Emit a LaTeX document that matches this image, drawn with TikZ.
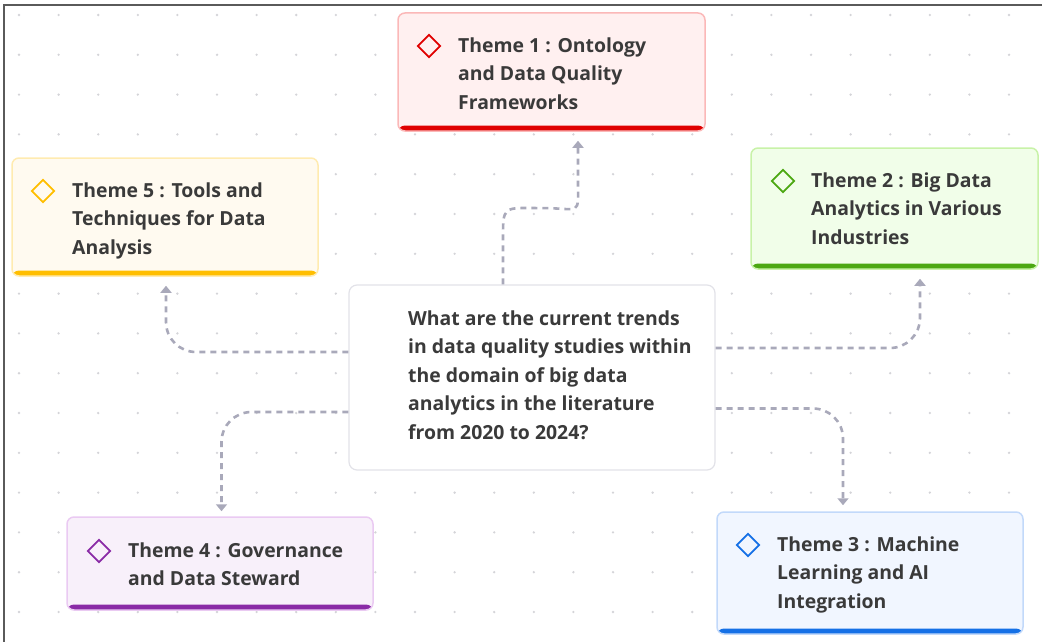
\documentclass[tikz,border=0pt]{standalone}
\usepackage{fontspec}
\setmainfont{Open Sans}
\usepackage{xcolor}
\usetikzlibrary{shapes.geometric,arrows.meta,calc}
\definecolor{inkgray}{HTML}{3A3A3A}
\definecolor{dotgray}{HTML}{D4D4D8}
\definecolor{linkgray}{HTML}{A9A9BA}
\definecolor{framegray}{HTML}{5A5A5A}
\definecolor{qborder}{HTML}{E2E2E8}
% theme colours: fill, border, bar
\definecolor{redfill}{HTML}{FFF0F0}\definecolor{redline}{HTML}{FBB8B8}\definecolor{redbar}{HTML}{E00000}
\definecolor{ambfill}{HTML}{FFFAF0}\definecolor{ambline}{HTML}{FFEBB0}\definecolor{ambbar}{HTML}{FFBE00}
\definecolor{grnfill}{HTML}{F1FEE9}\definecolor{grnline}{HTML}{C8F2A8}\definecolor{grnbar}{HTML}{4CA812}
\definecolor{vioFill}{HTML}{F8F0FA}\definecolor{violine}{HTML}{EACAF2}\definecolor{viobar}{HTML}{8A2BA6}
\definecolor{blufill}{HTML}{F1F6FF}\definecolor{bluline}{HTML}{C2D9FA}\definecolor{blubar}{HTML}{1570E6}

\begin{document}
\begin{tikzpicture}[x=1pt, y=-1pt,
    themebox/.style n args={3}{rectangle, rounded corners=7pt, draw=#2, line width=1.5pt, fill=#1,
        path picture={\fill[#3] ($(path picture bounding box.south west)+(0,-5.5)$) rectangle (path picture bounding box.south east);}},
    qbox/.style={rectangle, rounded corners=8pt, draw=qborder, line width=1.2pt, fill=white},
    tag/.style={diamond, draw=#1, line width=1.7pt, minimum size=23pt, inner sep=0},
    label/.style={font=\bfseries\fontsize{19.4}{28.5}\selectfont, text=inkgray, align=left, anchor=north west, inner sep=0},
    link/.style={draw=linkgray, line width=2.6pt, dash pattern=on 6pt off 5pt, rounded corners=30pt,
        -{Triangle[length=7pt, width=11pt]}}
]
\useasboundingbox (0,0) rectangle (1042,642);
% dotted background
\foreach \i in {0,...,26}
    \foreach \j in {0,...,16}
        \fill[dotgray] (19+39.6*\i, 15+39.8*\j) circle (1.3);
\draw[framegray, line width=2.2pt] (4,642) -- (4,5) -- (1042,5);

% CENTRAL QUESTION
\node[qbox, minimum width=366pt, minimum height=185pt] (boxq) at (532,377.5) {};
\node[label] (txtq) at (408,310.5) {What are the current trends\\in data quality studies within\\the domain of big data\\analytics in the literature\\from 2020 to 2024?};

% THEME 1
\node[themebox={redfill}{redline}{redbar}, minimum width=307pt, minimum height=118pt] (box1) at (551.5,72) {};
\node[tag=redbar] (tag1) at (429,46) {};
\node[label] (txt1) at (458,37.5) {Theme 1 : Ontology\\and Data Quality\\Frameworks};

% THEME 2
\node[themebox={grnfill}{grnline}{grnbar}, minimum width=287pt, minimum height=121pt] (box2) at (894.5,208.5) {};
\node[tag=grnbar] (tag2) at (783,181) {};
\node[label] (txt2) at (811,172.5) {Theme 2 : Big Data\\Analytics in Various\\Industries};

% THEME 3
\node[themebox={blufill}{bluline}{blubar}, minimum width=306pt, minimum height=122pt] (box3) at (870,573) {};
\node[tag=blubar] (tag3) at (748,545) {};
\node[label] (txt3) at (777,536.5) {Theme 3 : Machine\\Learning and AI\\Integration};

% THEME 4
\node[themebox={vioFill}{violine}{viobar}, minimum width=306pt, minimum height=93pt] (box4) at (220,563.5) {};
\node[tag=viobar] (tag4) at (99,551) {};
\node[label] (txt4) at (128,542.5) {Theme 4 : Governance\\and Data Steward};

% THEME 5
\node[themebox={ambfill}{ambline}{ambbar}, minimum width=306pt, minimum height=118pt] (box5) at (165,217) {};
\node[tag=ambbar] (tag5) at (43,191) {};
\node[label] (txt5) at (72,182.5) {Theme 5 : Tools and\\Techniques for Data\\Analysis};

% connectors
\draw[link, sharp corners, shorten >=9pt] ($(boxq.north)+(-29,0)$) -- ++(0,-42)
    .. controls +(0,-38) and +(-40,0) .. ($(boxq.north)!0.5!(box1.south)+(0,0)$)
    .. controls +(40,0) and +(0,38) .. ($(box1.south)+(26.5,48)$) -- ($(box1.south)+(26.5,0)$);
\draw[link, shorten >=9pt] ($(boxq.east)+(0,-29.5)$) -| ($(box2.south)+(25.5,0)$);
\draw[link, shorten >=6pt] ($(boxq.east)+(0,31)$) -| ($(box3.north)+(-27,0)$);
\draw[link, shorten >=5pt] ($(boxq.west)+(0,34.5)$) -| ($(box4.north)+(1.5,0)$);
\draw[link, shorten >=9pt] ($(boxq.west)+(0,-25.5)$) -| ($(box5.south)+(1,0)$);
\end{tikzpicture}
\end{document}
